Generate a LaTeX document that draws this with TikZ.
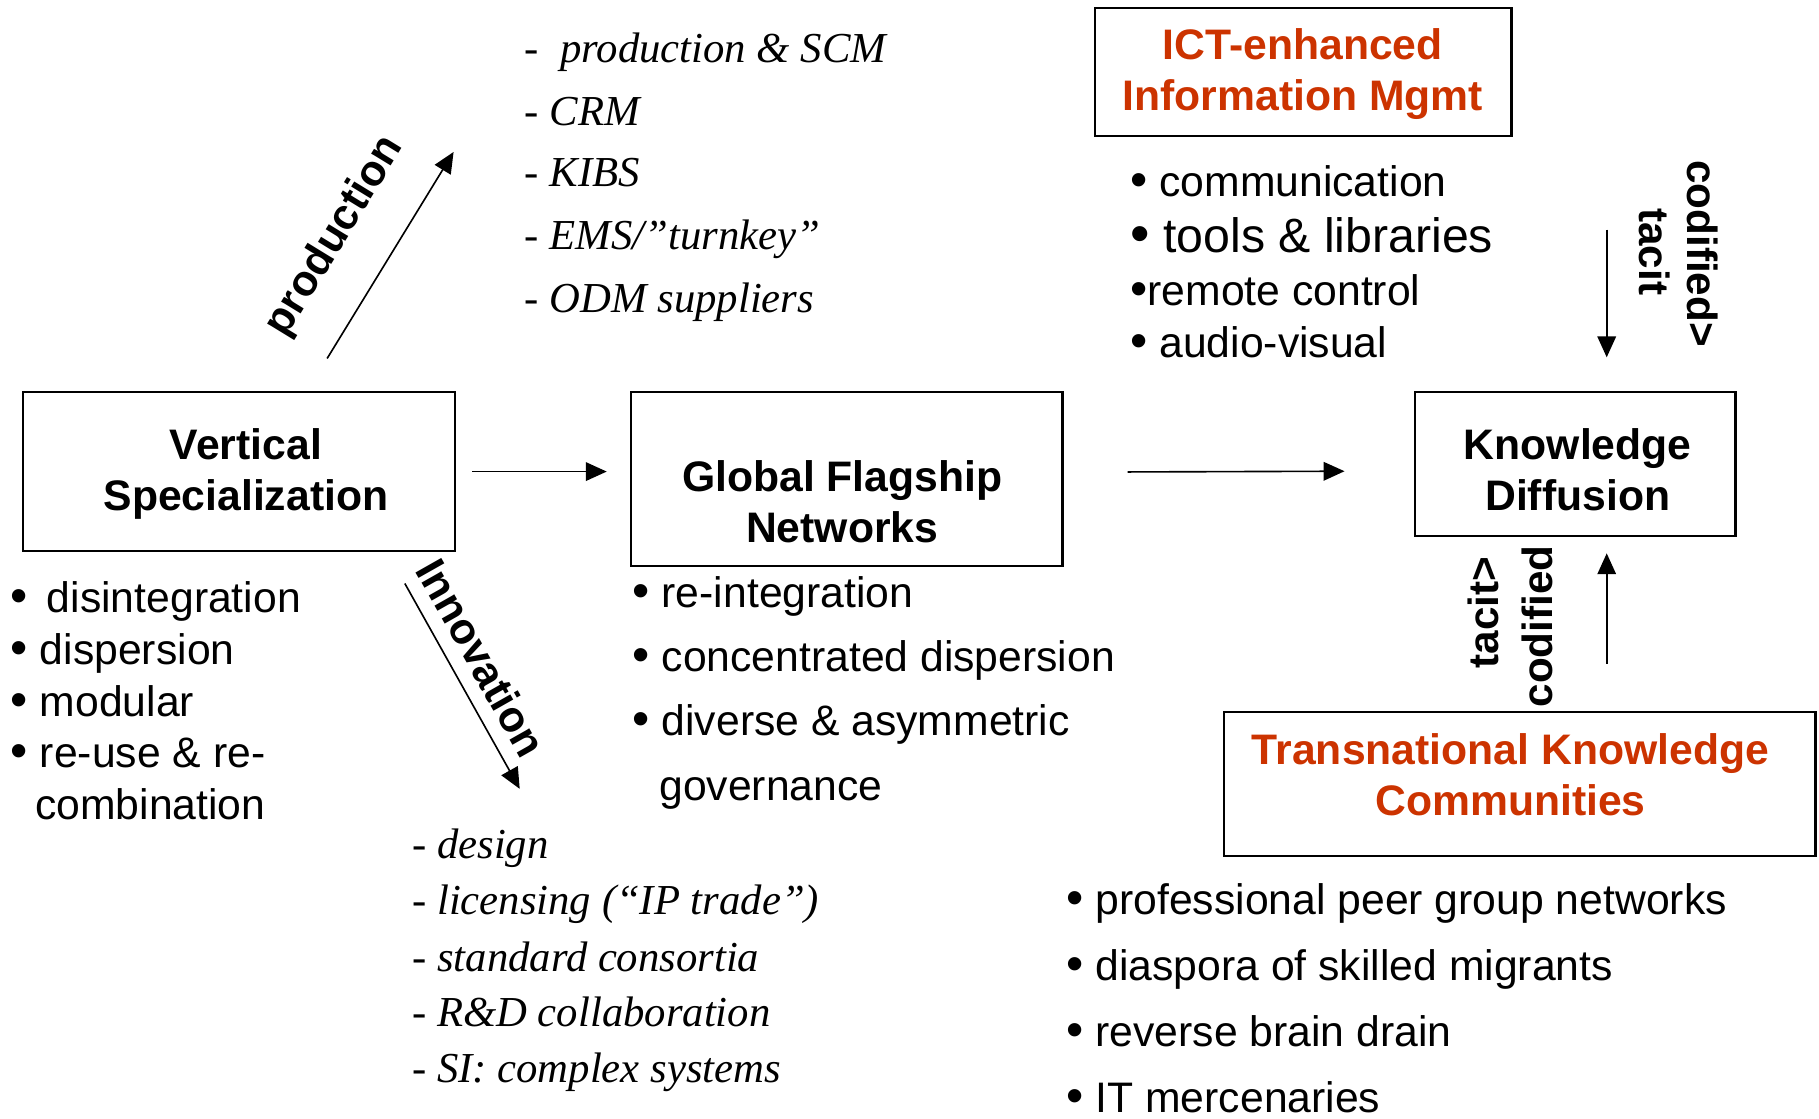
\documentclass[tikz,border=0pt]{standalone}
\usepackage{fontspec}
\setmainfont{Liberation Serif}
\setsansfont{Liberation Sans}
\usetikzlibrary{arrows.meta}
\definecolor{ictred}{HTML}{CC3300}
\tikzset{
  box/.style={draw, line width=1pt, inner sep=0pt},
  title/.style={font=\sffamily\bfseries\fontsize{18.4}{22}\selectfont, anchor=base, inner sep=0pt},
  redtitle/.style={title, text=ictred},
  item/.style={font=\sffamily\fontsize{18.4}{22}\selectfont, anchor=base west, inner sep=0pt},
  bigitem/.style={font=\sffamily\fontsize{20.8}{24}\selectfont, anchor=base west, inner sep=0pt},
  sub/.style={font=\rmfamily\itshape\fontsize{18.4}{22}\selectfont, anchor=base west, inner sep=0pt},
  lbl/.style={font=\sffamily\bfseries\fontsize{18.2}{22}\selectfont, inner sep=0pt},
  biglbl/.style={font=\sffamily\bfseries\fontsize{18.6}{22}\selectfont, inner sep=0pt},
  arr/.style={-{Triangle[length=9pt,width=8pt]}, line width=0.7pt}
}
\newcommand{\bul}{\scalebox{1.15}{\textbullet}}
\begin{document}
\begin{tikzpicture}[x=0.5pt,y=-0.5pt]
\useasboundingbox (0,0) rectangle (1568,964);

% boxes
\node[box, minimum width=186pt, minimum height=68.5pt] (vs) at (206,406.5) {};
\node[box, minimum width=186pt, minimum height=75pt] (gf) at (730,413) {};
\node[box, minimum width=138pt, minimum height=62pt] (kd) at (1358,400) {};
\node[box, minimum width=179.5pt, minimum height=55pt] (ict) at (1123.5,62) {};
\node[box, minimum width=255pt, minimum height=62pt] (tkc) at (1310,676) {};

% box titles
\node[title] (vs1) at (212,396) {Vertical};
\node[title] (vs2) at (212,440) {Specialization};
\node[title] (gf1) at (726,424) {Global Flagship};
\node[title] (gf2) at (726,468) {Networks};
\node[title] (kd1) at (1360,396) {Knowledge};
\node[title] (kd2) at (1360,440) {Diffusion};
\node[redtitle] (ict1) at (1123,51) {ICT-enhanced};
\node[redtitle] (ict2) at (1123,95) {Information Mgmt};
\node[redtitle] (tkc1) at (1302,659) {Transnational Knowledge};
\node[redtitle] (tkc2) at (1302,703) {Communities};

% main arrows
\draw[arr, shorten <=7pt, shorten >=10pt] (vs.east) -- (vs.east -| gf.west);
\draw[arr, shorten <=27.5pt, shorten >=30pt] ([yshift=3pt]gf.east) -- ([yshift=-3pt]kd.west);

% production / innovation arrows
\coordinate (pa) at (282,309);
\coordinate (pb) at (391,131);
\draw[arr] (pa) -- (pb);
\node[biglbl, rotate=58.5] (lprod) at (289,204) {production};
\coordinate (ia) at (349,503);
\coordinate (ib) at (448,680);
\draw[arr] (ia) -- (ib);
\node[biglbl, rotate=-60.5] (linno) at (415,567) {Innovation};

% vertical arrows at knowledge diffusion
\coordinate (da) at (1385,198);
\draw[arr, shorten >=14.5pt] (da) -- (da |- kd.north);
\node[lbl, rotate=-90] (lt1) at (1426,217) {tacit};
\node[lbl, rotate=-90] (lc1) at (1468,218.5) {codified>};
\coordinate (ua) at (1385,572);
\draw[arr, shorten >=7pt] (ua) -- (ua |- kd.south);
\node[lbl, rotate=90] (lt2) at (1279,528) {tacit>};
\node[lbl, rotate=90] (lc2) at (1325,540) {codified};

% left list
\node[item] (l1) at (9,528) {\bul\hspace{3pt} disintegration};
\node[item] (l2) at (9,573) {\bul{} dispersion};
\node[item] (l3) at (9,618) {\bul{} modular};
\node[item] (l4) at (9,662) {\bul{} re-use \& re-};
\node[item] (l5) at (30,706) {combination};

% global list
\node[item] (g1) at (545,524) {\bul{} re-integration};
\node[item] (g2) at (545,579) {\bul{} concentrated dispersion};
\node[item] (g3) at (545,634) {\bul{} diverse \& asymmetric};
\node[item] (g4) at (568,690) {governance};

% ICT list
\node[item] (c1) at (974,169) {\bul{} communication};
\node[bigitem] (c2) at (974,218) {\bul{} tools \& libraries};
\node[item] (c3) at (974,263) {\bul remote control};
\node[item] (c4) at (974,308) {\bul{} audio-visual};

% transnational list
\node[item] (t1) at (919,788) {\bul{} professional peer group networks};
\node[item] (t2) at (919,845) {\bul{} diaspora of skilled migrants};
\node[item] (t3) at (919,902) {\bul{} reverse brain drain};
\node[item] (t4) at (919,959) {\bul{} IT mercenaries};

% production sub-list
\node[sub] (p1) at (452,54) {-\ \ production \& SCM};
\node[sub] (p2) at (452,108) {- CRM};
\node[sub] (p3) at (452,161) {- KIBS};
\node[sub] (p4) at (452,215) {- EMS/”turnkey”};
\node[sub] (p5) at (452,269) {- ODM suppliers};

% innovation sub-list
\node[sub] (n1) at (355,740) {- design};
\node[sub] (n2) at (355,788) {- licensing (“IP trade”)};
\node[sub] (n3) at (355,837) {- standard consortia};
\node[sub] (n4) at (355,885) {- R\&D collaboration};
\node[sub] (n5) at (355,933) {- SI: complex systems};
\end{tikzpicture}
\end{document}
